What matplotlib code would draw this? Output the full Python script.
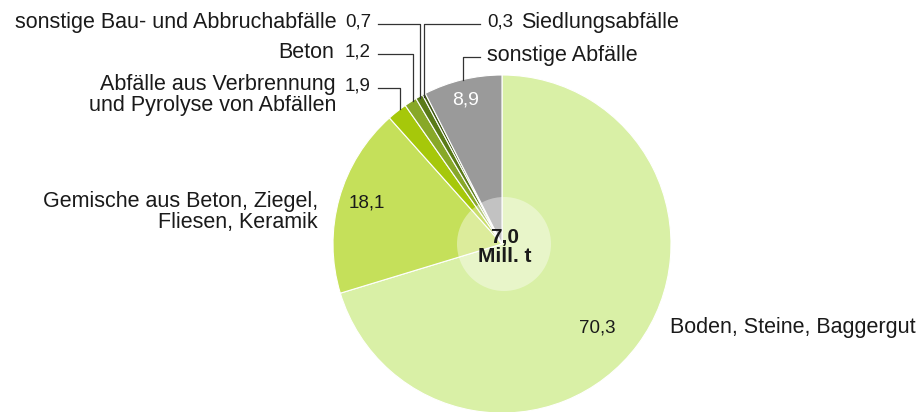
import matplotlib.pyplot as plt
from matplotlib.patches import Circle

plt.rcParams['font.family'] = ['Liberation Sans', 'DejaVu Sans']

# data (clockwise from 12 o'clock), percent
labels = ['Boden, Steine, Baggergut',
          'Gemische aus Beton, Ziegel,\nFliesen, Keramik',
          'Abfälle aus Verbrennung\nund Pyrolyse von Abfällen',
          'Beton',
          'sonstige Bau- und Abbruchabfälle',
          'Siedlungsabfälle',
          'sonstige Abfälle']
values = [70.3, 18.1, 1.9, 1.2, 0.7, 0.3, 8.9]
colors = ['#d9f0a6', '#c5e05a', '#a6c80a', '#88a828', '#5a7a18', '#3d5510', '#9a9a9a']
total_text = '7,0\nMill. t'


def fmt(v):
    return f'{v:.1f}'.replace('.', ',')


W, H = 920, 412
fig = plt.figure(figsize=(W / 100, H / 100), dpi=100)
ax = fig.add_axes([0, 0, 1, 1])

# the shares add up to more than 100 (rounding); the last slice fills the rest
# (pie checks the sum in float32, hence the small margin)
shares = [v / 100 for v in values[:-1]]
shares.append(min(values[-1] / 100, 1 - sum(shares) - 1e-5))

cx, cy, r = 502, H - 244, 169
ax.pie(shares, colors=colors, startangle=90, counterclock=False, normalize=False,
       center=(cx, cy), radius=r, frame=True,
       wedgeprops=dict(edgecolor='white', linewidth=0.8))
ax.set_xlim(0, W)
ax.set_ylim(0, H)
ax.set_aspect('equal')
ax.axis('off')

ax.add_patch(Circle((cx + 2, cy), 47, facecolor='white', alpha=0.4, lw=0))
ax.text(cx + 3, cy - 3, total_text, ha='center', va='center', fontsize=15,
        fontweight='bold', color='#1a1a1a', linespacing=0.95)


def y(py):
    return H - py


fs = 15.5
vs = 13.5
tc = '#1a1a1a'
lc = '#333333'

# big slices: labels in/next to the slice
ax.text(597, y(328), fmt(values[0]), ha='center', va='center', fontsize=vs, color=tc)
ax.text(670, y(328), labels[0], ha='left', va='center', fontsize=fs, color=tc)
ax.text(367, y(203), fmt(values[1]), ha='center', va='center', fontsize=vs, color=tc)
ax.text(318, y(212), labels[1], ha='right', va='center', fontsize=fs, color=tc,
        linespacing=0.95, multialignment='right')
ax.text(466, y(100), fmt(values[6]), ha='center', va='center', fontsize=vs + 0.5, color='white')

# small slices with leader lines
ax.text(336, y(95), labels[2], ha='right', va='center', fontsize=fs, color=tc,
        linespacing=0.95, multialignment='right')
ax.text(345, y(86), fmt(values[2]), ha='left', va='center', fontsize=vs, color=tc)
ax.plot([378, 400, 400], [y(88), y(88), y(109)], color=lc, lw=0.9)

ax.text(334, y(52), labels[3], ha='right', va='center', fontsize=fs, color=tc)
ax.text(345, y(52), fmt(values[3]), ha='left', va='center', fontsize=vs, color=tc)
ax.plot([378, 413, 413], [y(54), y(54), y(101)], color=lc, lw=0.9)

ax.text(337, y(22), labels[4], ha='right', va='center', fontsize=fs, color=tc)
ax.text(345, y(22), fmt(values[4]), ha='left', va='center', fontsize=vs, color=tc)
ax.plot([378, 420, 420], [y(24), y(24), y(98)], color=lc, lw=0.9)

ax.text(487, y(22), fmt(values[5]), ha='left', va='center', fontsize=vs, color=tc)
ax.text(521, y(22), labels[5], ha='left', va='center', fontsize=fs, color=tc)
ax.plot([424, 424, 480], [y(97), y(24), y(24)], color=lc, lw=0.9)

ax.text(487, y(55), labels[6], ha='left', va='center', fontsize=fs, color=tc)
ax.plot([463, 463, 480], [y(80), y(57), y(57)], color=lc, lw=0.9)

fig.savefig('out.png', dpi=100)
